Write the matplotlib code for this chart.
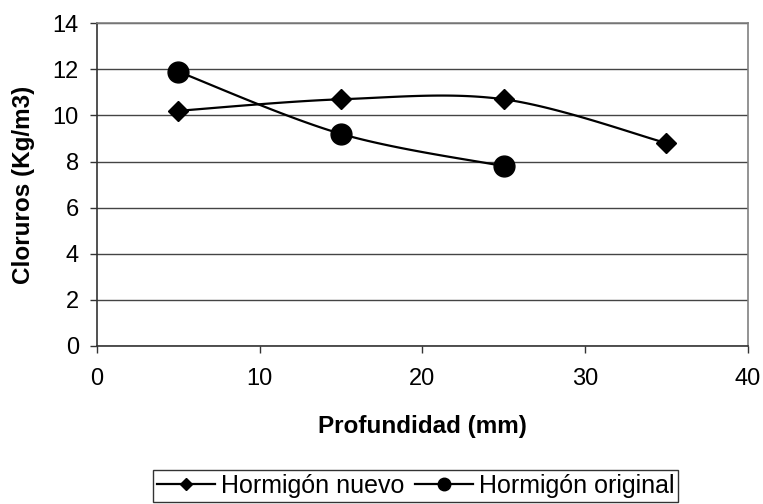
import numpy as np
import matplotlib
matplotlib.use("Agg")
import matplotlib.pyplot as plt

plt.rcParams['font.family'] = ['Liberation Sans', 'DejaVu Sans']

# data
prof_nuevo = [5, 15, 25, 35]
cl_nuevo = [10.2, 10.7, 10.7, 8.8]
prof_original = [5, 15, 25]
cl_original = [11.9, 9.2, 7.8]


def smooth(xs, ys, n=40):
    # Excel-style smoothed line (Catmull-Rom through the points)
    p = np.column_stack([xs, ys]).astype(float)
    p = np.vstack([p[0], p, p[-1]])
    out = []
    for i in range(1, len(p) - 2):
        p0, p1, p2, p3 = p[i - 1], p[i], p[i + 1], p[i + 2]
        c1 = p1 + (p2 - p0) / 6
        c2 = p2 - (p3 - p1) / 6
        t = np.linspace(0, 1, n)[:, None]
        seg = (1 - t) ** 3 * p1 + 3 * (1 - t) ** 2 * t * c1 + 3 * (1 - t) * t ** 2 * c2 + t ** 3 * p2
        out.append(seg)
    out = np.vstack(out)
    return out[:, 0], out[:, 1]


fig = plt.figure(figsize=(7.63, 5.04), dpi=100)
ax = fig.add_axes([0.127, 0.3135, 0.853, 0.6405])

for xs, ys, mk, ms, lab in [(prof_nuevo, cl_nuevo, 'D', 10.5, 'Hormigón nuevo'),
                            (prof_original, cl_original, 'o', 15, 'Hormigón original')]:
    sx, sy = smooth(xs, ys)
    ax.plot(sx, sy, color='black', lw=1.6, zorder=3)
    ax.plot(xs, ys, linestyle='none', marker=mk, ms=ms, color='black', zorder=4)
    ax.plot([], [], color='black', lw=1.6, marker=mk, ms=ms * 0.6, label=lab)

ax.set_xlim(0, 40)
ax.set_ylim(0, 14)
ax.set_xticks(np.arange(0, 41, 10))
ax.set_yticks(np.arange(0, 15, 2))
ax.yaxis.grid(True, color='#444444', lw=1)
ax.set_axisbelow(True)
ax.tick_params(direction='out', length=5, width=1, labelsize=17, color='#333333')
ax.tick_params(axis='x', pad=11)
ax.tick_params(axis='y', pad=8)
for s in ['top', 'right']:
    ax.spines[s].set_color('#808080')
    ax.spines[s].set_linewidth(1.2)
for s in ['left', 'bottom']:
    ax.spines[s].set_color('#333333')
    ax.spines[s].set_linewidth(1.2)

ax.set_xlabel('Profundidad (mm)', fontsize=17.5, fontweight='bold', labelpad=18)
ax.set_ylabel('Cloruros (Kg/m3)', fontsize=17.5, fontweight='bold', labelpad=13)

leg = fig.legend(loc='lower center', bbox_to_anchor=(0.545, 0.0), ncol=2, fontsize=18,
                 frameon=True, fancybox=False, edgecolor='black', handlelength=2.3,
                 handletextpad=0.25, columnspacing=0.45, borderpad=0.15, borderaxespad=0.1)
leg.get_frame().set_linewidth(1)

fig.savefig('out.png', dpi=100)
